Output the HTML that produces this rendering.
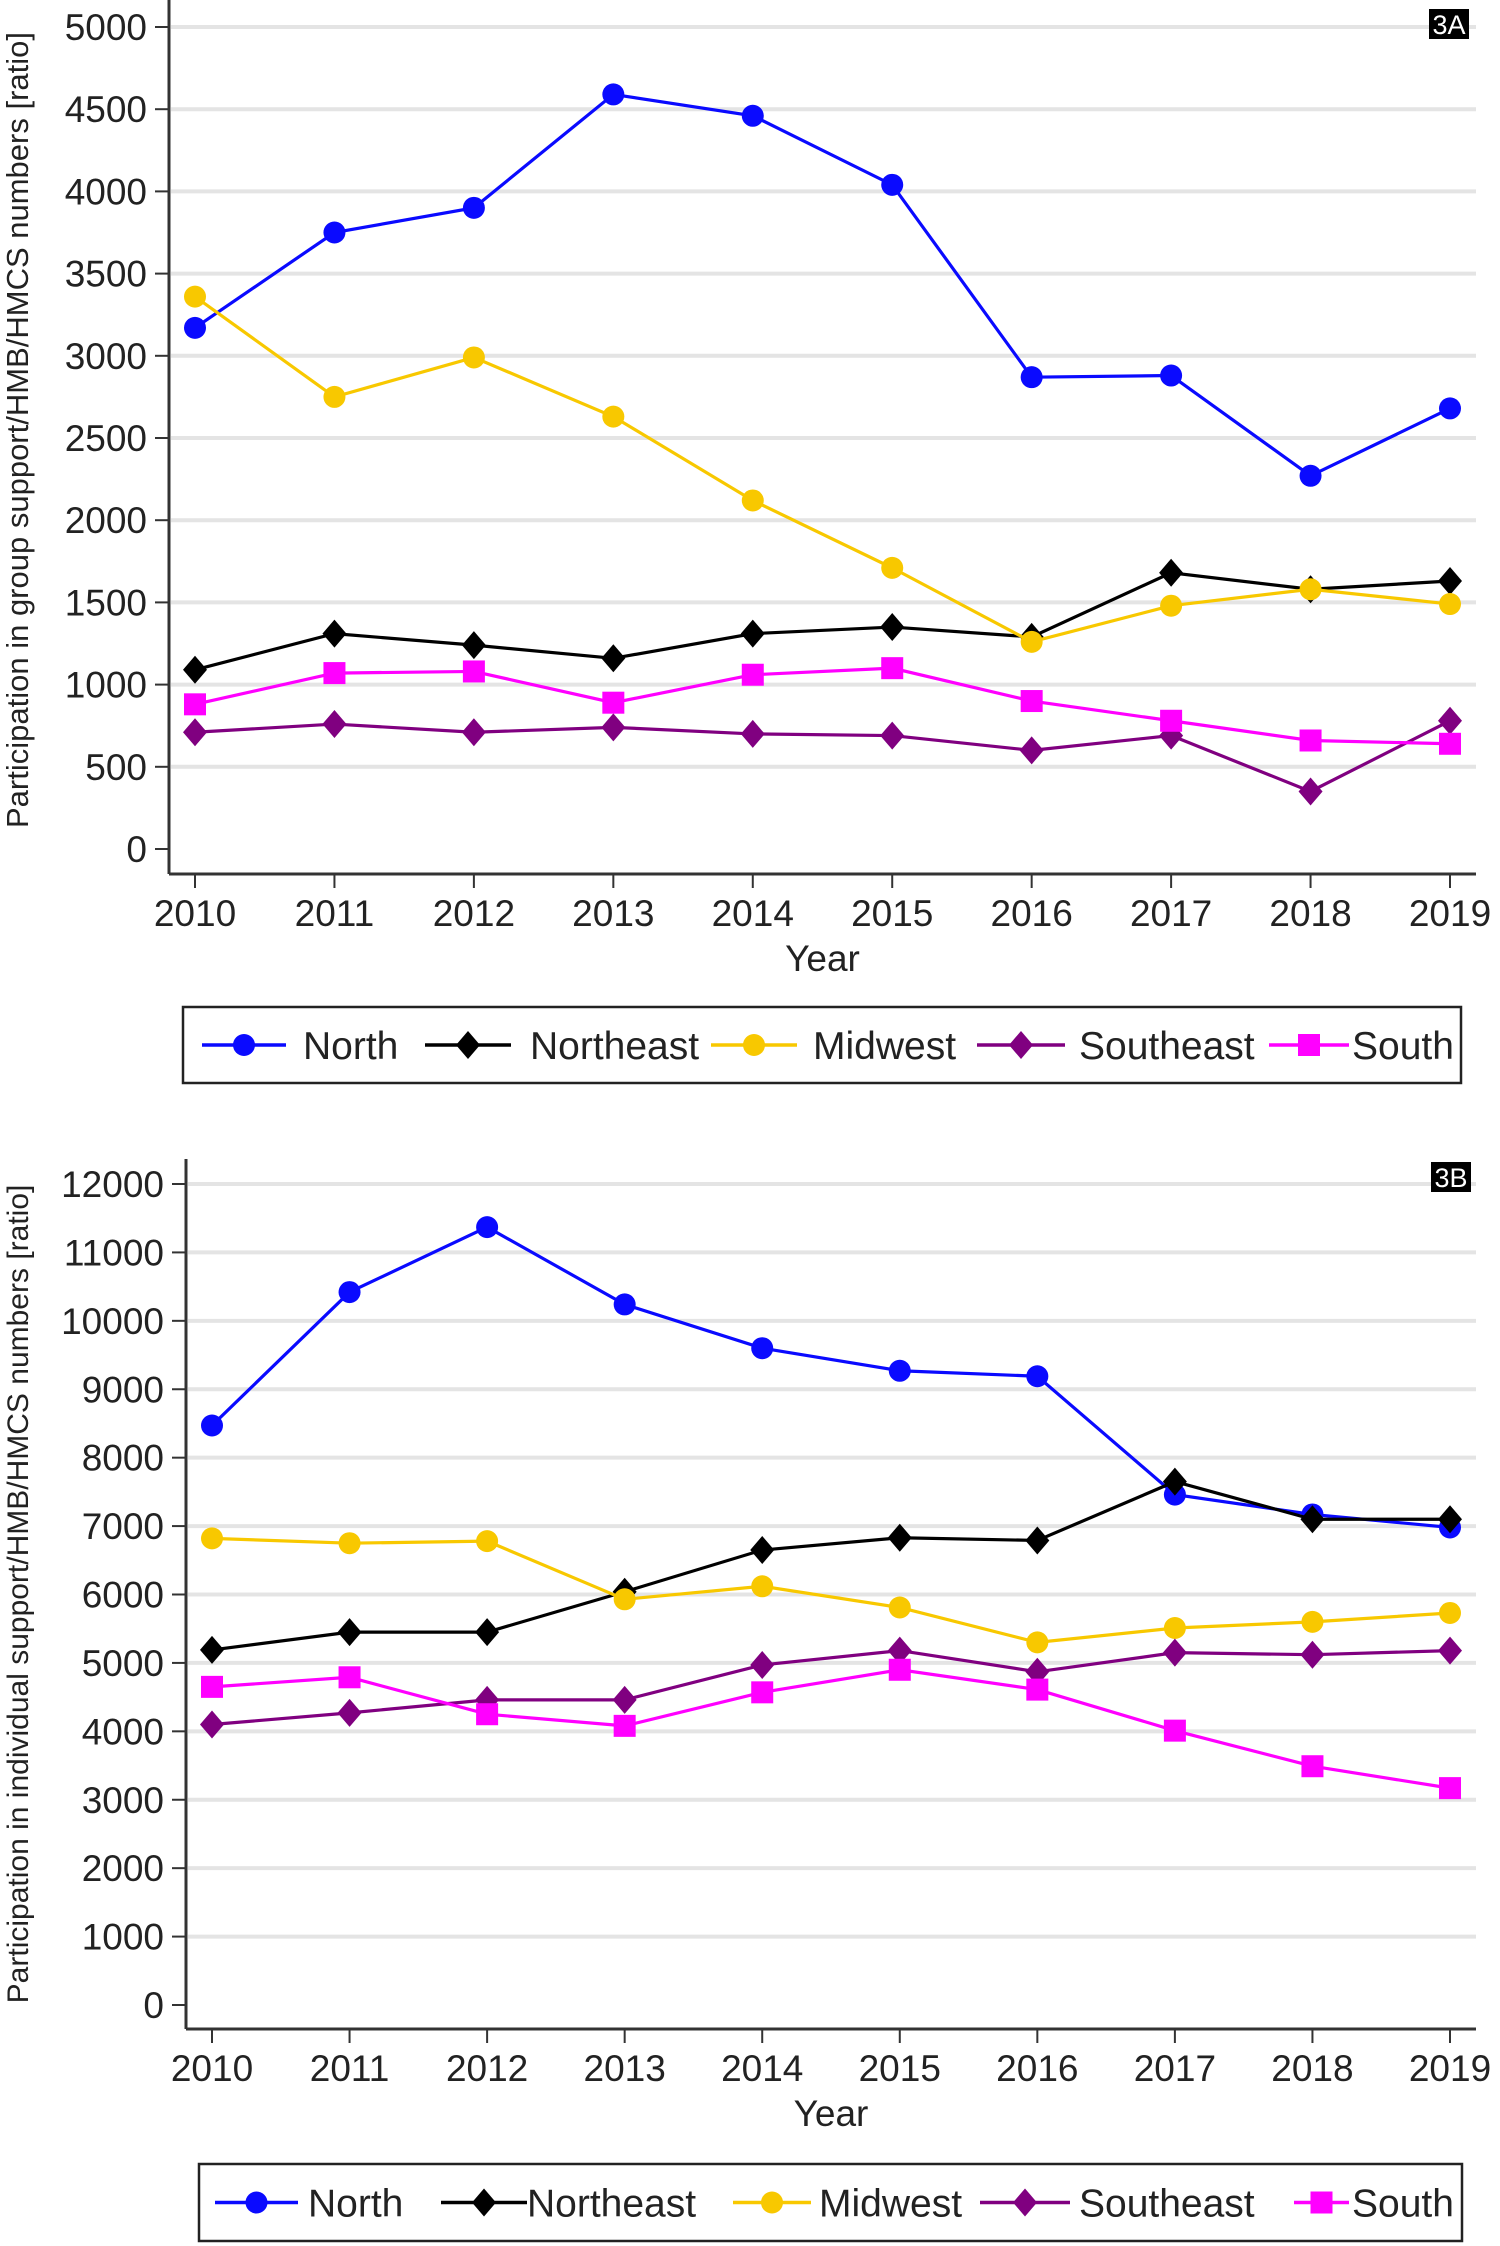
<!DOCTYPE html>
<html><head><meta charset="utf-8">
<style>
html,body{margin:0;padding:0;background:#fff;}
svg{display:block;font-family:"Liberation Sans",Arial,sans-serif;}
</style></head>
<body>
<svg id="chart" width="1500" height="2246" viewBox="0 0 1500 2246" xmlns="http://www.w3.org/2000/svg">
  <rect width="1500" height="2246" fill="#fff"/>
  <g id="panelA"></g>
  <g id="panelB"></g>
</svg>
<script>
// Shared data
const years = [2010,2011,2012,2013,2014,2015,2016,2017,2018,2019];
const seriesNames = ["North","Northeast","Midwest","Southeast","South"];
// Panel A values (group support)
const northA = [3170,3750,3900,4590,4460,4040,2870,2880,2270,2680];
const northeastA = [1090,1310,1240,1160,1310,1350,1290,1680,1580,1630];
const midwestA = [3360,2750,2990,2630,2120,1710,1260,1480,1580,1490];
const southeastA = [710,760,710,740,700,690,600,690,350,780];
const southA = [880,1070,1080,890,1060,1100,900,780,660,640];
const ticksA = [0,500,1000,1500,2000,2500,3000,3500,4000,4500,5000];
// Panel B values (individual support)
const northB = [8470,10420,11370,10240,9600,9270,9190,7460,7170,6980];
const northeastB = [5190,5450,5450,6040,6650,6830,6790,7650,7100,7100];
const midwestB = [6820,6750,6780,5930,6120,5810,5300,5510,5600,5730];
const southeastB = [4100,4270,4460,4460,4970,5180,4870,5150,5120,5180];
const southB = [4650,4790,4250,4080,4570,4900,4610,4010,3490,3170];
const ticksB = [0,1000,2000,3000,4000,5000,6000,7000,8000,9000,10000,11000,12000];

const NS="http://www.w3.org/2000/svg";
const colors={North:"#0a0aff",Northeast:"#000000",Midwest:"#f8c800",Southeast:"#800080",South:"#ff00ff"};
const shapes={North:"circle",Northeast:"diamond",Midwest:"circle",Southeast:"diamond",South:"square"};

function mk(parent,tag,attrs){const e=document.createElementNS(NS,tag);for(const k in attrs)e.setAttribute(k,attrs[k]);parent.appendChild(e);return e;}

function marker(g,shape,x,y,color,name){
  let m;
  if(shape==="circle") m=mk(g,"circle",{cx:x,cy:y,r:11,fill:color});
  else if(shape==="square") m=mk(g,"rect",{x:x-11,y:y-11,width:22,height:22,fill:color});
  else m=mk(g,"polygon",{points:`${x},${y-14} ${x+12},${y} ${x},${y+14} ${x-12},${y}`,fill:color});
  
  
  return m;
}

function draw(gid,cfg){
  const g=document.getElementById(gid);
  const xS=i=>cfg.x0+(cfg.x1-cfg.x0)*i/(years.length-1);
  const yS=v=>cfg.yZero+(cfg.yTop-cfg.yZero)*v/cfg.vTop;
  cfg.ticks.forEach(t=>{
    if(t>0){const l=mk(g,"line",{x1:cfg.axisX+2,x2:cfg.right,y1:yS(t),y2:yS(t),stroke:"#e4e4e4","stroke-width":4});
    
    }
    const tk=mk(g,"line",{x1:cfg.axisX-14,x2:cfg.axisX,y1:yS(t),y2:yS(t),stroke:"#333","stroke-width":2});
    
    
    const tx=mk(g,"text",{x:cfg.axisX-22,y:yS(t)+13,"text-anchor":"end","font-size":37,fill:"#222"});
    tx.textContent=t;
    
    
  });
  const ya=mk(g,"line",{x1:cfg.axisX,x2:cfg.axisX,y1:cfg.axisTop,y2:cfg.axisBottom,stroke:"#333","stroke-width":3});
  
  
  const xa=mk(g,"line",{x1:cfg.axisX,x2:cfg.right,y1:cfg.axisBottom,y2:cfg.axisBottom,stroke:"#333","stroke-width":3});
  
  
  years.forEach((yr,i)=>{
    const tk=mk(g,"line",{x1:xS(i),x2:xS(i),y1:cfg.axisBottom,y2:cfg.axisBottom+14,stroke:"#333","stroke-width":2});
    
    
    const tx=mk(g,"text",{x:xS(i),y:cfg.axisBottom+52,"text-anchor":"middle","font-size":37,fill:"#222"});
    tx.textContent=yr;
    
    
  });
  const xt=mk(g,"text",{x:(cfg.x0+cfg.x1)/2,y:cfg.axisBottom+97,"text-anchor":"middle","font-size":37,fill:"#222"});
  xt.textContent="Year";
  
  
  const yt=mk(g,"text",{x:0,y:0,"text-anchor":"middle","font-size":cfg.titleSize,fill:"#222",transform:`translate(28,${cfg.titleY}) rotate(-90)`});
  yt.textContent=cfg.title;
  
  
  const pb=mk(g,"rect",{x:cfg.labelX,y:cfg.labelY,width:40,height:30,fill:"#000"});
  
  
  const pl=mk(g,"text",{x:cfg.labelX+20,y:cfg.labelY+25,"text-anchor":"middle","font-size":27,fill:"#fff"});
  pl.textContent=cfg.label;
  
  
  cfg.series.forEach((vals,si)=>{
    const name=seriesNames[si];
    const sg=mk(g,"g",{});
    
    
    const pts=vals.map((v,i)=>xS(i)+","+yS(v)).join(" ");
    const pl2=mk(sg,"polyline",{points:pts,fill:"none",stroke:colors[name],"stroke-width":3.2});
    
    
    vals.forEach((v,i)=>marker(sg,shapes[name],xS(i),yS(v),colors[name],'point-'+name.toLowerCase()+'-'+years[i]));
  });
  const lg=mk(g,"g",{});
  
  
  const lb=mk(lg,"rect",{x:cfg.leg.x,y:cfg.leg.y,width:cfg.leg.w,height:cfg.leg.h,fill:"#fff",stroke:"#222","stroke-width":2.5});
  
  
  const cy=cfg.leg.y+cfg.leg.h/2;
  seriesNames.forEach((name,si)=>{
    const e=cfg.leg.entries[si];
    const eg=mk(lg,"g",{});
    
    
    mk(eg,"line",{x1:e[0],x2:e[1],y1:cy,y2:cy,stroke:colors[name],"stroke-width":3.5});
    marker(eg,shapes[name],(e[0]+e[1])/2,cy,colors[name],'legend-marker-'+name.toLowerCase());
    const t=mk(eg,"text",{x:e[2],y:cy+14,"font-size":39,fill:"#222"});
    t.textContent=name;
    
    
  });
}

draw("panelA",{x0:195,x1:1450,yZero:849,yTop:27,vTop:5000,ticks:ticksA,axisX:169,axisTop:0,axisBottom:874,right:1476,
  title:"Participation in group support/HMB/HMCS numbers [ratio]",titleY:430,titleSize:31,label:"3A",labelX:1429,labelY:9,
  series:[northA,northeastA,midwestA,southeastA,southA],
  leg:{x:183,y:1007,w:1278,h:76,entries:[[202,286,303],[425,511,530],[711,797,813],[977,1065,1079],[1269,1349,1352]]}});
draw("panelB",{x0:212,x1:1450,yZero:2005,yTop:1184,vTop:12000,ticks:ticksB,axisX:186,axisTop:1159,axisBottom:2029,right:1476,
  title:"Participation in individual support/HMB/HMCS numbers [ratio]",titleY:1594,titleSize:30,label:"3B",labelX:1431,labelY:1162,
  series:[northB,northeastB,midwestB,southeastB,southB],
  leg:{x:199,y:2164,w:1263,h:77,entries:[[215,298,308],[441,527,527],[733,811,819],[980,1070,1079],[1294,1349,1352]]}});
</script>
</body></html>
